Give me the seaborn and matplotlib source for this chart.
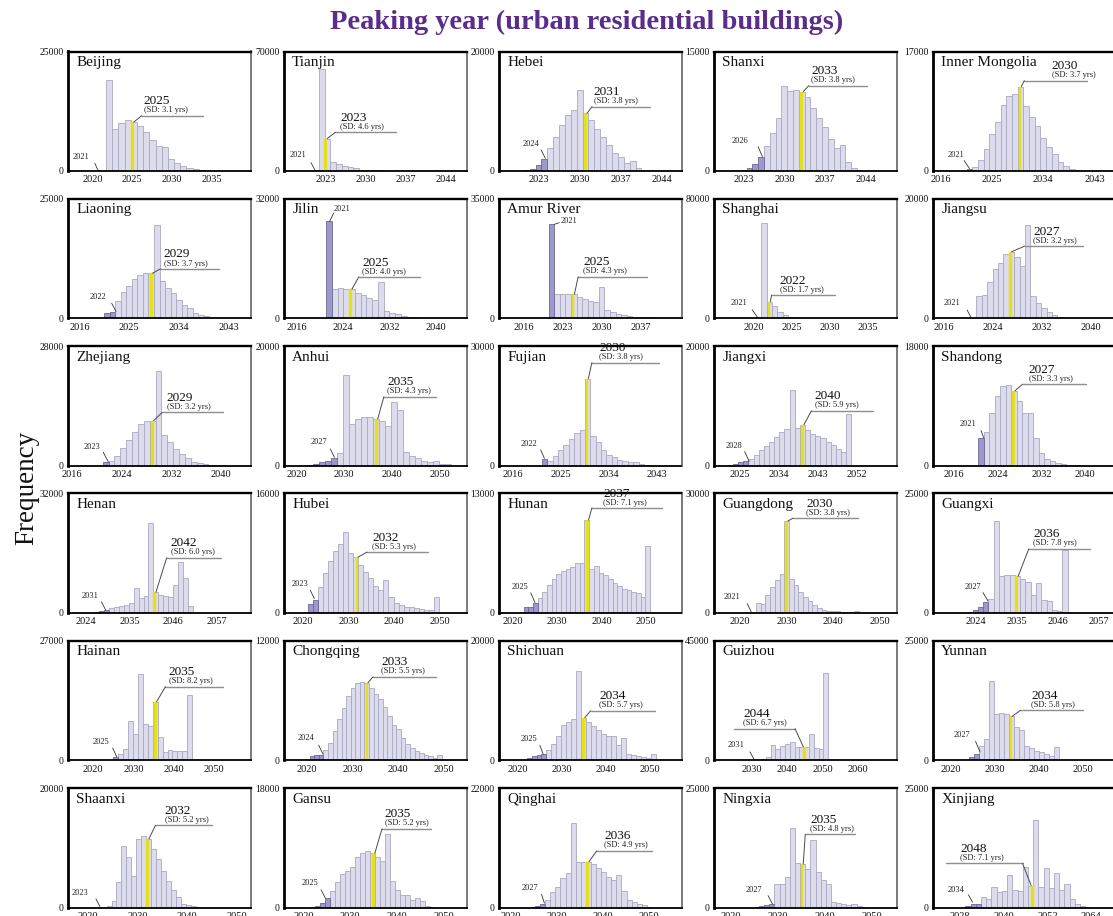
import numpy as np
import pandas as pd
import matplotlib
matplotlib.use("Agg")
import matplotlib.pyplot as plt
import seaborn as sns

# ---------------- data ----------------
REGIONS = ["Beijing", "Tianjin", "Hebei", "Shanxi", "Inner Mongolia",
           "Liaoning", "Jilin", "Amur River", "Shanghai", "Jiangsu",
           "Zhejiang", "Anhui", "Fujian", "Jiangxi", "Shandong",
           "Henan", "Hubei", "Hunan", "Guangdong", "Guangxi",
           "Hainan", "Chongqing", "Shichuan", "Guizhou", "Yunnan",
           "Shaanxi", "Gansu", "Qinghai", "Ningxia", "Xinjiang"]

YMAX = [25000, 70000, 20000, 15000, 17000,
        25000, 32000, 35000, 80000, 20000,
        28000, 20000, 30000, 20000, 18000,
        32000, 16000, 13000, 30000, 25000,
        27000, 12000, 20000, 45000, 25000,
        20000, 18000, 22000, 25000, 25000]

XMIN = [2016.9, 2015.8, 2016.3, 2017.9, 2014.6,
        2013.9, 2013.7, 2011.6, 2014.8, 2014.2,
        2015.3, 2017.4, 2013.5, 2019.0, 2012.2,
        2019.5, 2015.8, 2017.0, 2014.5, 2012.5,
        2013.75, 2014.95, 2015.8, 2019.2, 2015.9,
        2015.9, 2015.8, 2017.5, 2016.5, 2020.6]
XMAX = [2039.9, 2047.5, 2047.3, 2049.3, 2046.7,
        2047.0, 2045.4, 2044.3, 2038.7, 2044.0,
        2044.8, 2055.6, 2047.5, 2061.2, 2045.5,
        2065.4, 2055.9, 2057.9, 2053.5, 2061.5,
        2059.0, 2055.0, 2057.2, 2071.0, 2057.4,
        2052.8, 2054.9, 2057.0, 2055.3, 2070.7]

T4 = [2020, 2030, 2040, 2050]
XTICKS = [[2020, 2025, 2030, 2035], [2023, 2030, 2037, 2044], [2023, 2030, 2037, 2044],
          [2023, 2030, 2037, 2044], [2016, 2025, 2034, 2043],
          [2016, 2025, 2034, 2043], [2016, 2024, 2032, 2040], [2016, 2023, 2030, 2037],
          [2020, 2025, 2030, 2035], [2016, 2024, 2032, 2040],
          [2016, 2024, 2032, 2040], T4, [2016, 2025, 2034, 2043],
          [2025, 2034, 2043, 2052], [2016, 2024, 2032, 2040],
          [2024, 2035, 2046, 2057], T4, T4, T4, [2024, 2035, 2046, 2057],
          T4, T4, T4, [2030, 2040, 2050, 2060], T4,
          T4, T4, T4, T4, [2028, 2040, 2052, 2064]]

BIN_START = [2021.69, 2021.85, 2020.5, 2022.5, 2020.5,
             2020.5, 2021.0, 2020.5, 2021.0, 2021.3,
             2020.9, 2022.2, 2021.5, 2022.2, 2020.5,
             2026.1, 2021.0, 2022.5, 2023.5, 2021.7,
             2023.8, 2020.6, 2020.94, 2031.2, 2023.0,
             2023.7, 2021.3, 2024.2, 2025.0, 2029.5]
BIN_WIDTH = [0.78, 1.0, 1.0, 1.0, 1.0,
             1.0, 1.0, 1.0, 0.7, 0.88,
             0.95, 1.26, 1.0, 1.19, 1.0,
             1.24, 1.11, 1.05, 1.0, 1.42,
             1.22, 1.0, 1.125, 1.36, 1.14,
             1.0, 1.07, 1.1, 1.09, 1.43]

beijing = [19000, 8700, 9950, 10650, 10250, 9450, 8250, 6500, 5250, 4950, 2500, 1750, 1050, 620, 350, 200, 100, 50]
tianjin = [59600, 19000, 5100, 4100, 2930, 2350, 1560, 780, 590, 590, 390, 200]
hebei = [100, 280, 1000, 2000, 3800, 5750, 7700, 9400, 10200, 13570, 9660, 8550, 6980, 5640, 4360, 3070, 2400, 1280, 1730, 450, 170, 110, 50]
shanxi = [84, 335, 880, 1800, 3140, 4730, 6620, 10680, 10050, 10180, 9970, 9340, 7880, 6620, 5490, 3980, 2930, 3230, 1170, 420, 130, 40]
inner_mongolia = [240, 620, 1570, 3090, 5220, 7030, 9400, 10690, 10970, 12020, 9260, 7740, 6410, 4650, 3370, 2420, 1330, 710, 240, 100, 50]
liaoning = [1050, 1260, 3700, 5440, 6840, 8240, 9000, 9420, 9420, 19540, 7820, 6420, 5240, 3840, 2790, 2090, 1050, 630, 420, 140]
jilin = [25920, 7870, 8050, 7870, 7780, 6880, 6080, 5360, 4830, 9570, 2060, 1520, 1070, 630, 450, 360, 180, 90]
amur_river = [27700, 7190, 7190, 7190, 7000, 6220, 5640, 5050, 4670, 9230, 2330, 1750, 1360, 1070, 780, 490, 390, 290, 290, 190, 100]
shanghai = [63700, 11100, 8440, 4440, 2220, 1110, 670, 220, 100]
jiangsu = [3780, 3900, 6120, 8230, 9170, 10730, 11120, 10170, 8780, 15680, 3780, 2500, 1670, 1000, 560, 280, 110, 50]
zhejiang = [780, 1170, 2330, 4120, 5990, 7940, 9720, 10500, 10500, 22170, 7240, 5450, 3890, 2720, 1710, 930, 545, 310, 230, 160, 80]
anhui = [110, 220, 560, 830, 1330, 2110, 15120, 6950, 7780, 8170, 8170, 7780, 7450, 6670, 10670, 9340, 2220, 1670, 1280, 830, 560, 670, 280, 170]
fujian = [1670, 1170, 2500, 3920, 5250, 6670, 8170, 8920, 21830, 7500, 6000, 4000, 2750, 2250, 1500, 1080, 920, 830, 330, 100]
jiangxi = [60, 280, 560, 670, 1110, 1830, 2610, 3330, 4000, 4830, 5560, 6110, 12620, 6220, 6840, 5950, 5280, 5000, 4560, 4000, 3500, 2780, 2340, 8560]
shandong = [4100, 5100, 7900, 10500, 12000, 12100, 11250, 9750, 7900, 7850, 4100, 1900, 1000, 650, 350, 200, 150, 100, 50]
henan = [170, 440, 710, 1240, 1600, 1780, 2040, 2670, 6760, 4090, 4440, 24000, 5510, 4890, 4440, 4270, 7380, 13600, 9420, 1780]
hubei = [1240, 1780, 3470, 5330, 6930, 8220, 9240, 10840, 8000, 7460, 6440, 5460, 4660, 3600, 3110, 4350, 2130, 1330, 980, 800, 710, 620, 530, 360, 360, 2130]
hunan = [650, 650, 1120, 1660, 2270, 3000, 3650, 4190, 4550, 4730, 4980, 5420, 5420, 10100, 4800, 5090, 4350, 4080, 3650, 3290, 2890, 2600, 2460, 2280, 2100, 1730, 7260]
guangdong = [2500, 2330, 4580, 6500, 8330, 9670, 23000, 8580, 6920, 5250, 4000, 3000, 1920, 1080, 670, 500, 420, 330, 250, 170, 100, 330]
guangxi = [210, 690, 1250, 2290, 2980, 19150, 7770, 7840, 7840, 7630, 7150, 6380, 3680, 6250, 2640, 2500, 690, 350, 13050]
hainan = [150, 750, 1510, 2640, 8900, 6030, 19450, 8070, 7690, 13200, 5280, 1890, 2260, 2040, 2040, 2040, 14700]
chongqing = [400, 500, 570, 1000, 1740, 2910, 4090, 5290, 6470, 7300, 7710, 7870, 7770, 7300, 6630, 6100, 5360, 4420, 3580, 3120, 2180, 1670, 1270, 940, 740, 500, 400, 270, 500]
shichuan = [110, 330, 670, 950, 1000, 1670, 2780, 4000, 5830, 6390, 6950, 14900, 7110, 6390, 5670, 5110, 4450, 4110, 4110, 2500, 3780, 1110, 950, 670, 560, 440, 1110]
guizhou = [120, 630, 1250, 5630, 4380, 5250, 6000, 6880, 5130, 5000, 5000, 9750, 4630, 4380, 32880, 375]
yunnan = [140, 690, 1390, 3050, 4440, 16520, 9720, 9860, 9720, 9160, 6940, 6250, 3050, 2570, 1870, 1670, 1320, 970, 2710]
shaanxi = [170, 1010, 4190, 10230, 8390, 5200, 11460, 11910, 11460, 9840, 8110, 6040, 4470, 2960, 1680, 560, 340, 170, 110]
gansu = [50, 250, 650, 1410, 2520, 3770, 5080, 5530, 6040, 7590, 8190, 8550, 8190, 7550, 6940, 11070, 3920, 2670, 1910, 1810, 1160, 1410, 910, 300, 150]
qinghai = [80, 300, 730, 1400, 2810, 3850, 5380, 6420, 15640, 8430, 8430, 8430, 7940, 7330, 6600, 5680, 5070, 5990, 3060, 1400, 980, 610, 490, 120]
ningxia = [60, 210, 420, 690, 4860, 4860, 6390, 16660, 9300, 9090, 8050, 14160, 7360, 5760, 4860, 1110, 900, 690, 560, 690, 350, 100]
xinjiang = [350, 830, 830, 2150, 1800, 4230, 3330, 3470, 6870, 3750, 3470, 8540, 4580, 18250, 4230, 8330, 4160, 7290, 3610, 4930, 1800, 690, 210, 100]

COUNTS = [beijing, tianjin, hebei, shanxi, inner_mongolia,
          liaoning, jilin, amur_river, shanghai, jiangsu,
          zhejiang, anhui, fujian, jiangxi, shandong,
          henan, hubei, hunan, guangdong, guangxi,
          hainan, chongqing, shichuan, guizhou, yunnan,
          shaanxi, gansu, qinghai, ningxia, xinjiang]

N_DARK = [0, 0, 4, 4, 1,
          2, 1, 1, 0, 0,
          1, 5, 1, 4, 1,
          3, 2, 3, 0, 4,
          2, 3, 5, 1, 3,
          0, 4, 3, 4, 3]

MEDIAN_LABEL = [2025, 2023, 2031, 2033, 2030,
                2029, 2025, 2025, 2022, 2027,
                2029, 2035, 2030, 2040, 2027,
                2042, 2032, 2037, 2030, 2036,
                2035, 2033, 2034, 2044, 2034,
                2032, 2035, 2036, 2035, 2048]
MEDIAN_X = [2025.0, 2023.05, 2031.0, 2033.0, 2029.9,
            2029.0, 2025.25, 2024.85, 2022.0, 2026.8,
            2028.9, 2036.7, 2029.9, 2039.5, 2026.9,
            2041.3, 2031.8, 2036.8, 2030.0, 2035.0,
            2035.4, 2033.1, 2035.0, 2044.9, 2033.6,
            2032.0, 2035.0, 2036.7, 2035.2, 2047.9]
MEDIAN_H = [10250, 19000, 9660, 9970, 12020,
            9420, 7780, 7000, 11100, 11120,
            10500, 7780, 21830, 6840, 11250,
            5510, 7460, 10100, 23000, 7630,
            13200, 7770, 7110, 5000, 9160,
            11460, 8190, 8430, 9090, 4580]
SD = [3.1, 4.6, 3.8, 3.8, 3.7,
      3.7, 4.0, 4.3, 1.7, 3.2,
      3.2, 4.3, 3.8, 5.9, 3.3,
      6.0, 5.3, 7.1, 3.8, 7.8,
      8.2, 5.5, 5.7, 6.7, 5.8,
      5.2, 5.2, 4.9, 4.8, 7.1]
EARLY = [2021, 2021, 2024, 2026, 2021,
         2022, 2021, 2021, 2021, 2021,
         2023, 2027, 2022, 2028, 2021,
         2031, 2023, 2025, 2021, 2027,
         2025, 2024, 2025, 2031, 2027,
         2023, 2025, 2027, 2027, 2034]

# ---------------- layout (axes fractions) ----------------
# (text_x, line_y, line_x0, line_x1, side)
ANN = [(0.414, 0.464, 0.405, 0.74, 'R'), (0.309, 0.324, 0.282, 0.616, 'R'),
       (0.519, 0.539, 0.51, 0.827, 'R'), (0.534, 0.715, 0.52, 0.836, 'R'),
       (0.65, 0.757, 0.50, 0.845, 'R'),
       (0.525, 0.413, 0.506, 0.825, 'R'), (0.428, 0.346, 0.41, 0.744, 'R'),
       (0.463, 0.347, 0.434, 0.809, 'R'), (0.359, 0.194, 0.316, 0.664, 'R'),
       (0.548, 0.603, 0.502, 0.822, 'R'),
       (0.54, 0.444, 0.516, 0.847, 'R'), (0.565, 0.575, 0.547, 0.835, 'R'),
       (0.55, 0.861, 0.509, 0.876, 'R'), (0.552, 0.458, 0.534, 0.87, 'R'),
       (0.525, 0.681, 0.491, 0.838, 'R'),
       (0.563, 0.461, 0.541, 0.839, 'R'), (0.483, 0.508, 0.455, 0.788, 'R'),
       (0.572, 0.878, 0.509, 0.894, 'R'), (0.504, 0.792, 0.433, 0.787, 'R'),
       (0.548, 0.536, 0.525, 0.863, 'R'),
       (0.552, 0.615, 0.534, 0.847, 'R'), (0.532, 0.698, 0.488, 0.835, 'R'),
       (0.55, 0.414, 0.502, 0.853, 'R'), (0.159, 0.264, 0.108, 0.444, 'L'),
       (0.537, 0.417, 0.479, 0.822, 'R'),
       (0.529, 0.687, 0.479, 0.788, 'R'), (0.552, 0.659, 0.537, 0.806, 'R'),
       (0.577, 0.475, 0.536, 0.837, 'R'), (0.527, 0.611, 0.50, 0.774, 'R'),
       (0.148, 0.369, 0.073, 0.491, 'L')]
# (text_x, text_y, line_x0, line_y0, line_x1, line_y1)
EARLY_POS = [(0.072, 0.12, 0.147, 0.064, 0.166, 0.0), (0.077, 0.134, 0.148, 0.07, 0.172, 0.0),
             (0.175, 0.226, 0.231, 0.176, 0.254, 0.106), (0.141, 0.251, 0.242, 0.204, 0.265, 0.12),
             (0.126, 0.134, 0.171, 0.087, 0.2, 0.02),
             (0.166, 0.176, 0.239, 0.126, 0.263, 0.056), (0.318, 0.916, 0.272, 0.88, 0.25, 0.81),
             (0.385, 0.812, 0.33, 0.80, 0.303, 0.785), (0.135, 0.125, 0.209, 0.07, 0.242, 0.0),
             (0.103, 0.125, 0.187, 0.069, 0.21, 0.0),
             (0.129, 0.153, 0.193, 0.111, 0.221, 0.03), (0.19, 0.194, 0.254, 0.139, 0.276, 0.069),
             (0.165, 0.18, 0.228, 0.131, 0.249, 0.06), (0.108, 0.167, 0.168, 0.117, 0.193, 0.033),
             (0.194, 0.347, 0.263, 0.292, 0.279, 0.228),
             (0.119, 0.139, 0.183, 0.092, 0.207, 0.022), (0.086, 0.244, 0.144, 0.189, 0.166, 0.119),
             (0.113, 0.217, 0.174, 0.167, 0.197, 0.086), (0.096, 0.133, 0.182, 0.078, 0.204, 0.008),
             (0.217, 0.217, 0.274, 0.169, 0.301, 0.1),
             (0.179, 0.154, 0.245, 0.103, 0.267, 0.028), (0.122, 0.182, 0.19, 0.126, 0.214, 0.05),
             (0.165, 0.181, 0.224, 0.125, 0.242, 0.05), (0.119, 0.125, 0.197, 0.069, 0.22, 0.006),
             (0.16, 0.208, 0.233, 0.158, 0.258, 0.069),
             (0.068, 0.12, 0.153, 0.073, 0.175, 0.008), (0.144, 0.204, 0.203, 0.148, 0.227, 0.078),
             (0.17, 0.161, 0.233, 0.111, 0.249, 0.036), (0.22, 0.147, 0.296, 0.1, 0.321, 0.028),
             (0.126, 0.147, 0.194, 0.106, 0.217, 0.044)]

LIGHT, LIGHT_EDGE = "#dddcec", "#a9a8c2"
DARK, DARK_EDGE = "#9d99c9", "#6b6799"
YELLOW = "#e4e11c"

sns.set_style("white")
plt.rcParams['font.family'] = ['Liberation Serif', 'DejaVu Serif']

W, H = 1113, 916
fig = plt.figure(figsize=(W / 100, H / 100), dpi=100)
COL_LEFT = [68, 284, 499, 714, 933]
ROW_TOP = [51.5, 198.7, 346, 493.3, 640.7, 788]
AX_W, AX_H = 182.5, 119.5


def hist(ax, xs, ws, bins, face, edge, lw):
    df = pd.DataFrame({"year": [float(v) for v in xs], "n": [float(v) for v in ws]})
    sns.histplot(data=df, x="year", weights="n", bins=[float(b) for b in bins], ax=ax,
                 color=face, edgecolor=edge, linewidth=lw, alpha=1)


for i, name in enumerate(REGIONS):
    r, c = divmod(i, 5)
    ax = fig.add_axes([COL_LEFT[c] / W, 1 - (ROW_TOP[r] + AX_H) / H, AX_W / W, AX_H / H])
    counts = np.array(COUNTS[i], float)
    n = len(counts)
    bw = BIN_WIDTH[i]
    edges = BIN_START[i] + bw * np.arange(n + 1)
    centers = (edges[:-1] + edges[1:]) / 2
    nd = N_DARK[i]
    hist(ax, centers[nd:], counts[nd:], edges[nd:], LIGHT, LIGHT_EDGE, 0.6)
    if nd:
        hist(ax, centers[:nd], counts[:nd], edges[:nd + 1], DARK, DARK_EDGE, 0.6)
    mx, mh = MEDIAN_X[i], MEDIAN_H[i]
    yw = 0.5 * bw
    hist(ax, [mx], [mh], [mx - yw / 2, mx + yw / 2], YELLOW, YELLOW, 0.3)

    x0, x1 = XMIN[i], XMAX[i]
    ymax = YMAX[i]
    ax.set_xlim(x0, x1)
    ax.set_ylim(0, ymax)
    ax.set_xlabel("")
    ax.set_ylabel("")
    ax.set_xticks(XTICKS[i])
    ax.set_xticklabels([str(t) for t in XTICKS[i]], fontsize=7.5)
    ax.set_yticks([0, ymax])
    ax.set_yticklabels(["0", str(ymax)], fontsize=7)
    ax.tick_params(axis='both', length=2, width=0.7, pad=1.2, colors='#111111')

    for s, (col, lw) in {'left': ('black', 2.0), 'top': ('black', 1.7),
                         'right': ('#7a7a7a', 1.4), 'bottom': ('black', 1.3)}.items():
        ax.spines[s].set_visible(True)
        ax.spines[s].set_color(col)
        ax.spines[s].set_linewidth(lw)

    ax.text(0.045, 0.96, name, transform=ax.transAxes, fontsize=11, va='top', ha='left',
            color='#111111')

    # median annotation
    tx, ly, lx0, lx1, side = ANN[i]
    span = x1 - x0
    ax.plot([x0 + lx0 * span, x0 + lx1 * span], [ly * ymax, ly * ymax], color='#8e8e8e', lw=1.0)
    if side == 'R':
        ax.plot([mx + yw / 2, x0 + lx0 * span], [mh, ly * ymax], color='#4a4a4a', lw=0.7)
    else:
        ax.plot([mx - yw / 2, x0 + lx1 * span], [mh, ly * ymax], color='#4a4a4a', lw=0.7)
    ax.text(tx, ly + 0.095, str(MEDIAN_LABEL[i]), transform=ax.transAxes, fontsize=9.5,
            va='baseline', ha='left', color='#111111')
    ax.text(tx, ly + 0.028, f"(SD: {SD[i]:.1f} yrs)", transform=ax.transAxes, fontsize=6,
            va='baseline', ha='left', color='#222222')

    # earliest-year annotation
    ex, ey, a0, b0, a1, b1 = EARLY_POS[i]
    ax.text(ex, ey, str(EARLY[i]), transform=ax.transAxes, fontsize=6, ha='center',
            va='center', color='#222222')
    ax.plot([a0, a1], [b0, b1], transform=ax.transAxes, color='#333333', lw=0.6)

fig.text(0.527, 0.976, "Peaking year (urban residential buildings)", ha='center', va='center',
         fontsize=20.5, fontweight='bold', color='#5a2d8c')
fig.text(0.024, 0.467, "Frequency", rotation=90, ha='center', va='center', fontsize=19.5,
         color='#111111')

fig.savefig("out.png", dpi=100)
